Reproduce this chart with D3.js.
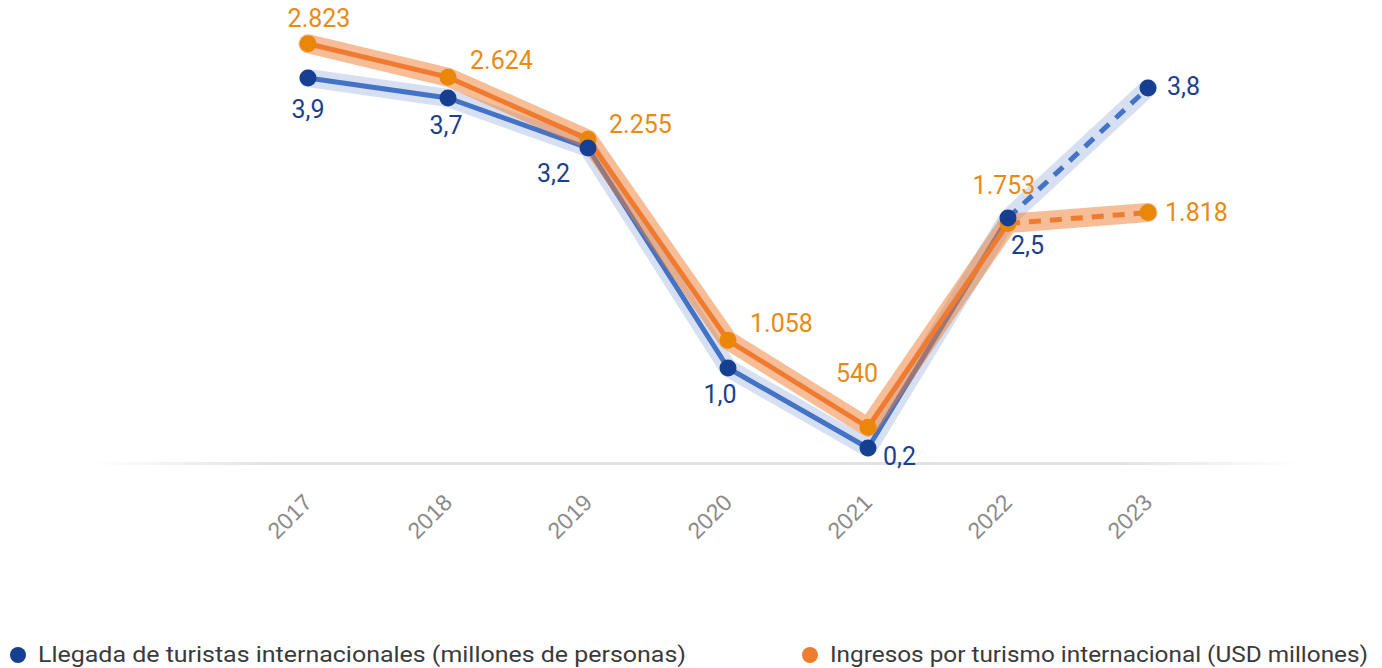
<!DOCTYPE html>
<html>
<head>
<meta charset="utf-8">
<script src="https://cdn.jsdelivr.net/npm/d3@7"></script>
<style>
  html, body { margin: 0; padding: 0; background: #fff; }
  svg { display: block; font-family: Roboto, "Noto Sans", sans-serif; }
</style>
</head>
<body>
<svg id="chart" width="1382" height="668"></svg>
<script>
// Years on the horizontal axis
const years = ["2017", "2018", "2019", "2020", "2021", "2022", "2023"];
// International tourist arrivals (millions of people)
const arrivals = [3.9, 3.7, 3.2, 1.0, 0.2, 2.5, 3.8];
// International tourism receipts (USD millions)
const receipts = [2823, 2624, 2255, 1058, 540, 1753, 1818];
// Legend captions
const seriesNames = [
  "Llegada de turistas internacionales (millones de personas)",
  "Ingresos por turismo internacional (USD millones)"
];

const fmtArrivals = v => d3.format(".1f")(v).replace(".", ",");
const fmtReceipts = v => d3.format(",")(v).replace(/,/g, ".");

const svg = d3.select("#chart");

const x = d3.scalePoint().domain(years).range([308, 1148]);
const yA = d3.scaleLinear().domain([0, 4]).range([468, 68]);
const yR = d3.scaleLinear().domain([0, 3000]).range([518, 14]);

const BLUE_DOT = "#163f91", BLUE_LINE = "#4472c4", BLUE_TEXT = "#1b3f8e";
const ORANGE_DOT = "#ea8708", ORANGE_LINE = "#ee7b30", ORANGE_TEXT = "#e98a12";

// Baseline: soft grey rule fading at both ends
const defs = svg.append("defs");
const grad = defs.append("linearGradient").attr("id", "baseFade")
  .attr("x1", "0").attr("x2", "1").attr("y1", "0").attr("y2", "0");
grad.append("stop").attr("offset", "0").attr("stop-color", "#e2e2e2").attr("stop-opacity", 0);
grad.append("stop").attr("offset", "0.15").attr("stop-color", "#e2e2e2").attr("stop-opacity", 1);
grad.append("stop").attr("offset", "0.85").attr("stop-color", "#e2e2e2").attr("stop-opacity", 1);
grad.append("stop").attr("offset", "1").attr("stop-color", "#e2e2e2").attr("stop-opacity", 0);
svg.append("rect").attr("x", 90).attr("y", 462).attr("width", 1210).attr("height", 3)
  .attr("fill", "url(#baseFade)");

// Rotated year labels
const xAxis = svg.append("g").attr("transform", "translate(0,480)")
  .call(d3.axisBottom(x).tickSize(0).tickPadding(0));
xAxis.select(".domain").remove();
xAxis.selectAll("text")
  .attr("fill", "#8a8a8a")
  .attr("font-size", 23)
  .attr("text-anchor", "end")
  .attr("dy", null)
  .attr("y", 0)
  .attr("transform", "translate(5,24) rotate(-45)");

const line = (scale) => d3.line().x((d, i) => x(years[i])).y(d => scale(d));

function drawSeries(values, scale, halo, haloOpacity, haloWidth, stroke) {
  const g = svg.append("g");
  const solid = values.slice(0, 6);
  const dashed = values.slice(5);
  const dashedLine = d3.line().x((d, i) => x(years[i + 5])).y(d => scale(d));
  // wide translucent halo
  g.append("path").attr("d", line(scale)(values)).attr("fill", "none")
    .attr("stroke", halo).attr("stroke-opacity", haloOpacity)
    .attr("stroke-width", haloWidth).attr("stroke-linejoin", "round").attr("stroke-linecap", "round");
  g.append("path").attr("d", line(scale)(solid)).attr("fill", "none")
    .attr("stroke", stroke).attr("stroke-width", 5).attr("stroke-linejoin", "round");
  g.append("path").attr("d", dashedLine(dashed)).attr("fill", "none")
    .attr("stroke", stroke).attr("stroke-width", 5).attr("stroke-dasharray", "12 9");
}

drawSeries(arrivals, yA, "#4472c4", 0.22, 18, BLUE_LINE);
drawSeries(receipts, yR, "#ee7b30", 0.5, 19, ORANGE_LINE);

// Markers: receipts first, arrivals on top
svg.append("g").selectAll("circle").data(receipts).join("circle")
  .attr("cx", (d, i) => x(years[i])).attr("cy", d => yR(d)).attr("r", 8.5).attr("fill", ORANGE_DOT);
svg.append("g").selectAll("circle").data(arrivals).join("circle")
  .attr("cx", (d, i) => x(years[i])).attr("cy", d => yA(d)).attr("r", 8.5).attr("fill", BLUE_DOT);

// Value label placement relative to each marker: [dx, dy, anchor]
const arrivalsLabelPos = [
  [0, 40, "middle"], [-2, 36, "middle"], [-18, 34, "end"], [-8, 35, "middle"],
  [15, 17, "start"], [3, 36, "start"], [19, 7, "start"]
];
const receiptsLabelPos = [
  [11, -17, "middle"], [22, -8, "start"], [21, -6, "start"], [22, -8, "start"],
  [-11, -45, "middle"], [-4, -29, "middle"], [17, 8, "start"]
];

svg.append("g").selectAll("text").data(receipts).join("text")
  .attr("x", (d, i) => x(years[i]) + receiptsLabelPos[i][0])
  .attr("y", (d, i) => yR(d) + receiptsLabelPos[i][1])
  .attr("text-anchor", (d, i) => receiptsLabelPos[i][2])
  .attr("font-size", 25).attr("fill", ORANGE_TEXT)
  .text(fmtReceipts);

svg.append("g").selectAll("text").data(arrivals).join("text")
  .attr("x", (d, i) => x(years[i]) + arrivalsLabelPos[i][0])
  .attr("y", (d, i) => yA(d) + arrivalsLabelPos[i][1])
  .attr("text-anchor", (d, i) => arrivalsLabelPos[i][2])
  .attr("font-size", 25).attr("fill", BLUE_TEXT)
  .text(fmtArrivals);

// Legend
const legendItems = [
  { name: seriesNames[0], color: BLUE_DOT, x: 18, width: 648 },
  { name: seriesNames[1], color: "#ef7d2f", x: 810, width: 538 }
];
const lg = svg.append("g");
legendItems.forEach(item => {
  lg.append("circle").attr("cx", item.x).attr("cy", 655).attr("r", 8).attr("fill", item.color);
  lg.append("text").attr("x", item.x + 20).attr("y", 662)
    .attr("font-size", 22).attr("fill", "#3a3a3a")
    .attr("textLength", item.width).attr("lengthAdjust", "spacingAndGlyphs")
    .text(item.name);
});
</script>
</body>
</html>
